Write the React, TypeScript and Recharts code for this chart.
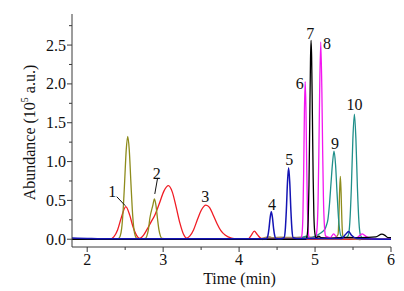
import React from 'react';
import {
  ComposedChart,
  Line,
  XAxis,
  YAxis,
  ReferenceDot,
  ReferenceLine,
  Label,
} from 'recharts';

// retention time (min), abundance (10^5 a.u.)
const RED: [number, number][] = [
  [1.8, 0], [2.3, 0], [2.35, 0.03], [2.4, 0.12], [2.45, 0.28], [2.508, 0.42], [2.56, 0.31],
  [2.6, 0.17], [2.65, 0.05], [2.69, 0.01], [2.74, 0.05], [2.79, 0.13], [2.84, 0.22],
  [2.89, 0.31], [2.95, 0.46], [3.01, 0.62], [3.07, 0.69], [3.12, 0.61], [3.17, 0.42],
  [3.22, 0.21], [3.27, 0.06], [3.31, 0.015], [3.35, 0.04], [3.4, 0.12], [3.45, 0.25],
  [3.5, 0.37], [3.563, 0.44], [3.61, 0.41], [3.66, 0.31], [3.71, 0.2], [3.76, 0.11],
  [3.82, 0.05], [3.9, 0.015], [4.0, 0.003], [4.12, 0.005], [4.16, 0.05], [4.2, 0.105],
  [4.24, 0.06], [4.29, 0.01], [4.4, 0], [6.0, 0],
];
const OLIVE: [number, number][] = [
  [1.8, 0], [2.394, 0], [2.414, 0.01], [2.434, 0.04], [2.454, 0.14], [2.474, 0.38],
  [2.494, 0.76], [2.514, 1.15], [2.534, 1.325], [2.554, 1.15], [2.574, 0.76], [2.594, 0.38],
  [2.614, 0.14], [2.634, 0.04], [2.654, 0.01], [2.7, 0.003], [2.765, 0.01], [2.785, 0.04],
  [2.805, 0.12], [2.825, 0.27], [2.865, 0.44], [2.885, 0.52], [2.905, 0.44], [2.925, 0.27],
  [2.945, 0.12], [2.965, 0.04], [2.985, 0.01], [3.1, 0], [4.32, 0], [4.37, 0.02],
  [4.4, 0.03], [4.45, 0.01], [4.6, 0.005], [5.25, 0.01], [5.303, 0.06], [5.313, 0.25],
  [5.323, 0.6], [5.333, 0.81], [5.343, 0.6], [5.353, 0.25], [5.363, 0.06], [5.38, 0.01],
  [5.43, 0.01], [6.0, 0],
];
const TAN: [number, number][] = [
  [4.3, 0], [4.36, 0.02], [4.45, 0.012], [4.55, 0.018], [4.7, 0.015], [4.8, 0.018],
  [5.0, 0.02], [5.1, 0.012], [5.3, 0.012], [5.45, 0.02], [5.6, 0],
];
const TEAL: [number, number][] = [
  [1.8, 0], [4.8, 0], [4.85, 0.03], [4.885, 0.04], [4.92, 0.01], [4.98, 0.03], [5.05, 0.065],
  [5.1, 0.1], [5.13, 0.13], [5.15, 0.18], [5.17, 0.26], [5.19, 0.45], [5.21, 0.72],
  [5.23, 0.98], [5.25, 1.135], [5.27, 0.96], [5.29, 0.59], [5.31, 0.26], [5.33, 0.08],
  [5.35, 0.03], [5.4, 0.02], [5.438, 0.05], [5.458, 0.22], [5.478, 0.66], [5.498, 1.29],
  [5.518, 1.61], [5.538, 1.29], [5.558, 0.66], [5.578, 0.22], [5.598, 0.05], [5.63, 0.01],
  [5.72, 0.01], [6.0, 0],
];
const MAGENTA: [number, number][] = [
  [1.8, 0], [4.81, 0], [4.82, 0.02], [4.83, 0.08], [4.84, 0.3], [4.85, 0.85], [4.86, 1.65],
  [4.87, 2.03], [4.88, 1.7], [4.89, 0.95], [4.9, 0.38], [4.91, 0.12], [4.92, 0.03],
  [4.935, 0.01], [5.0, 0.01], [5.01, 0.03], [5.025, 0.12], [5.04, 0.5], [5.05, 1.1],
  [5.06, 1.85], [5.075, 2.54], [5.09, 1.9], [5.1, 1.15], [5.11, 0.55], [5.125, 0.15],
  [5.14, 0.04], [5.2, 0.02], [5.245, 0.07], [5.29, 0.02], [5.55, 0.02], [5.62, 0.07],
  [5.68, 0.03], [5.8, 0], [6.0, 0],
];
const BLACK: [number, number][] = [
  [1.8, 0], [4.88, 0], [4.89, 0.02], [4.9, 0.08], [4.91, 0.25], [4.92, 0.7], [4.93, 1.5],
  [4.94, 2.3], [4.947, 2.56], [4.955, 2.35], [4.965, 1.6], [4.975, 0.8], [4.985, 0.3],
  [4.995, 0.1], [5.01, 0.02], [5.05, 0.04], [5.08, 0.02], [5.2, 0.01], [5.3, 0.02],
  [5.6, 0.02], [5.8, 0.03], [5.88, 0.065], [5.92, 0.05], [5.96, 0.02], [6.0, 0.02],
];
const BLUE: [number, number][] = [
  [1.8, 0.015], [2.0, 0.01], [2.3, 0.005], [4.34, 0.005], [4.364, 0.01], [4.379, 0.045],
  [4.394, 0.14], [4.409, 0.28], [4.424, 0.355], [4.439, 0.28], [4.454, 0.14], [4.469, 0.045],
  [4.484, 0.01], [4.55, 0.005], [4.592, 0.02], [4.607, 0.11], [4.622, 0.37], [4.637, 0.73],
  [4.652, 0.92], [4.667, 0.73], [4.682, 0.37], [4.697, 0.11], [4.712, 0.02], [4.76, 0.01],
  [5.35, 0.01], [5.4, 0.06], [5.443, 0.1], [5.48, 0.05], [5.55, 0.01], [6.0, 0],
];

const PEAK_TEXT = ['1', '2', '3', '4', '5', '6', '7', '8', '9', '10'];
const PEAK_T = [2.331, 2.917, 3.553, 4.433, 4.661, 4.797, 4.938, 5.158, 5.263, 5.518];
const PEAK_A = [0.613, 0.842, 0.549, 0.453, 1.024, 2.0, 2.655, 2.526, 1.231, 1.736];

// leader lines for peaks 1 and 2: [t1, a1, t2, a2]
const LEADERS: [number, number, number, number][] = [
  [2.389, 0.548, 2.502, 0.431],
  [2.925, 0.777, 2.89, 0.583],
];

const X_TICKS = [2, 2.5, 3, 3.5, 4, 4.5, 5, 5.5, 6];
const Y_TICKS = [0, 0.25, 0.5, 0.75, 1, 1.25, 1.5, 1.75, 2, 2.25, 2.5, 2.75];

const FONT = '"Liberation Serif", "Times New Roman", serif';
const AXIS = '#3a3a3a';

const toRows = (pts: [number, number][]) => pts.map(([t, a]) => ({ t, a }));

const SERIES = [
  { key: 'red', data: toRows(RED), color: '#f01c24', width: 1.3 },
  { key: 'olive', data: toRows(OLIVE), color: '#8e8c1c', width: 1.3 },
  { key: 'tan', data: toRows(TAN), color: '#a3855c', width: 2.5 },
  { key: 'teal', data: toRows(TEAL), color: '#1f8f8a', width: 1.3 },
  { key: 'magenta', data: toRows(MAGENTA), color: '#f316f0', width: 1.3 },
  { key: 'black', data: toRows(BLACK), color: '#000000', width: 1.3 },
  { key: 'blue', data: toRows(BLUE), color: '#1414b4', width: 1.5 },
];

const XTick = ({ x, y, payload }: any) => {
  const major = Number.isInteger(payload.value);
  return (
    <g>
      <line x1={x} x2={x} y1={y} y2={y + (major ? 5 : 3)} stroke={AXIS} />
      {major && (
        <text x={x} y={y + 18} textAnchor="middle" fontSize={16} fontFamily={FONT} fill="#111">
          {payload.value}
        </text>
      )}
    </g>
  );
};

const YTick = ({ x, y, payload }: any) => {
  const major = Math.abs(payload.value * 2 - Math.round(payload.value * 2)) < 1e-6;
  return (
    <g>
      <line x1={x - (major ? 5 : 3)} x2={x} y1={y} y2={y} stroke={AXIS} />
      {major && (
        <text x={x - 6} y={y + 5.5} textAnchor="end" fontSize={16} fontFamily={FONT} fill="#111">
          {payload.value.toFixed(1)}
        </text>
      )}
    </g>
  );
};

const XTitle = ({ viewBox }: any) => (
  <text
    x={viewBox.x + viewBox.width / 2 + 8}
    y={viewBox.y + 37}
    textAnchor="middle"
    fontSize={16}
    fontFamily={FONT}
    fill="#111"
  >
    Time (min)
  </text>
);

const YTitle = ({ viewBox }: any) => {
  const cx = viewBox.x + 35;
  const cy = viewBox.y + viewBox.height / 2 + 2;
  return (
    <text
      x={cx}
      y={cy}
      transform={`rotate(-90 ${cx} ${cy})`}
      textAnchor="middle"
      fontSize={16}
      fontFamily={FONT}
      fill="#111"
    >
      Abundance (10
      <tspan fontSize={10} dy={-7}>5</tspan>
      <tspan dy={7}> a.u.)</tspan>
    </text>
  );
};

const PeakText = (text: string) => (props: any) => (
  <text
    x={props.cx}
    y={props.cy}
    textAnchor="middle"
    dominantBaseline="central"
    fontSize={16}
    fontFamily={FONT}
    fill="#111"
  >
    {text}
  </text>
);

export default function App() {
  return (
    <div style={{ position: 'absolute', left: 0, top: 0, background: '#fff' }}>
      <ComposedChart width={404} height={291} margin={{ top: 14, right: 13, left: 0, bottom: 0 }}>
        <XAxis
          type="number"
          dataKey="t"
          domain={[1.8, 6]}
          ticks={X_TICKS}
          interval={0}
          allowDataOverflow
          height={44}
          tickSize={0}
          tickMargin={0}
          tickLine={false}
          stroke={AXIS}
          tick={<XTick />}
        >
          <Label content={<XTitle />} />
        </XAxis>
        <YAxis
          type="number"
          dataKey="a"
          domain={[-0.1, 2.9]}
          ticks={Y_TICKS}
          interval={0}
          allowDataOverflow
          width={72}
          tickSize={0}
          tickMargin={0}
          tickLine={false}
          stroke={AXIS}
          tick={<YTick />}
        >
          <Label content={<YTitle />} />
        </YAxis>
        {SERIES.map((s) => (
          <Line
            key={s.key}
            data={s.data}
            dataKey="a"
            type="monotone"
            stroke={s.color}
            strokeWidth={s.width}
            dot={false}
            activeDot={false}
            isAnimationActive={false}
          />
        ))}
        {LEADERS.map(([t1, a1, t2, a2], i) => (
          <ReferenceLine
            key={`lead-${i}`}
            segment={[{ x: t1, y: a1 }, { x: t2, y: a2 }]}
            stroke="#111"
            strokeWidth={1}
          />
        ))}
        {PEAK_TEXT.map((txt, i) => (
          <ReferenceDot
            key={`peak-${i}`}
            x={PEAK_T[i]}
            y={PEAK_A[i]}
            r={0}
            shape={PeakText(txt)}
          />
        ))}
      </ComposedChart>
    </div>
  );
}
